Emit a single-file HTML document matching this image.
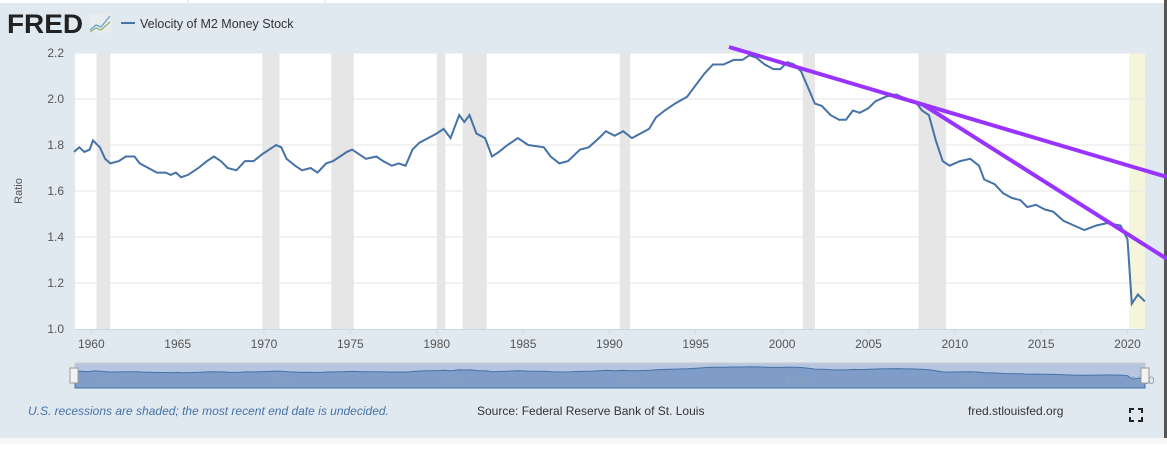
<!DOCTYPE html>
<html><head><meta charset="utf-8"><style>
body{margin:0;width:1167px;height:444px;overflow:hidden;background:#fff;font-family:"Liberation Sans",sans-serif}
</style></head><body>
<svg id="s" width="1167" height="444" xmlns="http://www.w3.org/2000/svg" font-family="Liberation Sans, sans-serif">
<rect x="0" y="0" width="1167" height="438" fill="#e1e9f0"/>
<rect x="0" y="0" width="1167" height="3" fill="#fff"/>
<line x1="188" y1="0" x2="188" y2="3" stroke="#ddd"/><line x1="325" y1="0" x2="325" y2="3" stroke="#ddd"/>
<rect x="1164" y="0" width="3" height="438" fill="#555"/>
<rect x="0" y="438" width="1167" height="6" fill="#f7f7f7"/>
<text x="7" y="33" font-size="27" font-weight="bold" fill="#222" textLength="76" lengthAdjust="spacingAndGlyphs">FRED</text>
<rect x="89" y="14" width="22" height="19" fill="#e8ecef"/>
<polyline points="90,30 96,25 101,27 110,16" fill="none" stroke="#6a9ed0" stroke-width="1.3"/>
<polyline points="90,32 96,28 101,30 110,22" fill="none" stroke="#8cb56a" stroke-width="1.3"/>
<line x1="121" y1="23" x2="135" y2="23" stroke="#4572a7" stroke-width="2"/>
<text x="140" y="28" font-size="12.5" fill="#333">Velocity of M2 Money Stock</text>
<rect x="75" y="53" width="1070" height="276" fill="#fff"/>
<g id="rec"></g>
<g id="grid" stroke="#e6e6e6" stroke-width="1"></g>
<line x1="75" y1="329.5" x2="1145" y2="329.5" stroke="#ccd6eb"/>
<g id="ylab" font-size="12" fill="#555" text-anchor="end"></g>
<g id="xlab" font-size="12" fill="#555" text-anchor="middle"></g>
<text x="22" y="191" font-size="11" fill="#555" text-anchor="middle" transform="rotate(-90 22 191)">Ratio</text>
<path id="line" fill="none" stroke="#4572a7" stroke-width="2"/>
<rect x="75" y="363" width="1070" height="25" fill="#b7c6e0" stroke="#ccc"/>
<path id="nav" fill="#7f9dc8" stroke="#4572a7" stroke-width="1"/>
<text x="96" y="384" font-size="11" fill="#8aa0c0">1960</text>
<text x="270" y="384" font-size="11" fill="#8aa0c0">1970</text>
<text x="440" y="384" font-size="11" fill="#8aa0c0">1980</text>
<text x="615" y="384" font-size="11" fill="#8aa0c0">1990</text>
<text x="785" y="384" font-size="11" fill="#8aa0c0">2000</text>
<text x="960" y="384" font-size="11" fill="#8aa0c0">2010</text>
<text x="1130" y="384" font-size="11" fill="#8aa0c0">2020</text>
<rect x="70" y="368" width="8" height="15" fill="#f2f2f2" stroke="#999"/>
<rect x="1141" y="368" width="8" height="15" fill="#f2f2f2" stroke="#999"/>
<text x="28" y="415" font-size="12" font-style="italic" fill="#4572a7">U.S. recessions are shaded; the most recent end date is undecided.</text>
<text x="477" y="415" font-size="12" fill="#333">Source: Federal Reserve Bank of St. Louis</text>
<text x="968" y="415" font-size="12" fill="#333">fred.stlouisfed.org</text>
<path d="M1130,413v-4h4M1138,409h4v4M1142,417v4h-4M1134,421h-4v-4" fill="none" stroke="#222" stroke-width="2"/>
<line x1="729" y1="47" x2="1167" y2="177" stroke="#9933ff" stroke-width="4"/>
<line x1="922" y1="104" x2="1167" y2="259" stroke="#9933ff" stroke-width="4"/>
</svg>
<script>
var X=function(t){return 91.3+(t-1960)*17.27},Y=function(v){return 329-(v-1)*230};
var ns="http://www.w3.org/2000/svg";
function el(p,n,a,t){var e=document.createElementNS(ns,n);for(var k in a)e.setAttribute(k,a[k]);if(t)e.textContent=t;document.getElementById(p).appendChild(e);}
[[1960.3,1961.1],[1969.9,1970.9],[1973.9,1975.2],[1980.0,1980.5],[1981.5,1982.9],[1990.6,1991.2],[2001.2,2001.9],[2007.9,2009.5]].forEach(function(r){el("rec","rect",{x:X(r[0]),y:53,width:X(r[1])-X(r[0]),height:276,fill:"#e6e6e6"});});
el("rec","rect",{x:X(2020.1),y:53,width:1145-X(2020.1),height:276,fill:"#f5f5dc"});
for(var v=1.2;v<2.25;v+=0.2)el("grid","line",{x1:75,x2:1145,y1:Y(v),y2:Y(v)});
for(var v=1.0;v<2.25;v+=0.2)el("ylab","text",{x:64,y:Y(v)+4},v.toFixed(1));
for(var y=1960;y<=2020;y+=5){el("xlab","text",{x:X(y),y:348},y);el("grid","line",{x1:X(y),x2:X(y),y1:329,y2:334,stroke:"#ccd6eb"});}
var d=[[1959,1.77],[1959.3,1.79],[1959.6,1.77],[1959.9,1.78],[1960.1,1.82],[1960.5,1.79],[1960.8,1.74],[1961.1,1.72],[1961.6,1.73],[1962,1.75],[1962.5,1.75],[1962.8,1.72],[1963.3,1.70],[1963.8,1.68],[1964.3,1.68],[1964.6,1.67],[1964.9,1.68],[1965.2,1.66],[1965.6,1.67],[1966.2,1.70],[1966.7,1.73],[1967.1,1.75],[1967.5,1.73],[1967.9,1.70],[1968.4,1.69],[1968.9,1.73],[1969.4,1.73],[1969.9,1.76],[1970.3,1.78],[1970.7,1.80],[1971,1.79],[1971.3,1.74],[1971.8,1.71],[1972.2,1.69],[1972.7,1.70],[1973.1,1.68],[1973.6,1.72],[1974,1.73],[1974.4,1.75],[1974.8,1.77],[1975.1,1.78],[1975.5,1.76],[1975.9,1.74],[1976.5,1.75],[1976.9,1.73],[1977.4,1.71],[1977.8,1.72],[1978.2,1.71],[1978.6,1.78],[1979,1.81],[1979.5,1.83],[1980,1.85],[1980.4,1.87],[1980.8,1.83],[1981.3,1.93],[1981.6,1.90],[1981.9,1.93],[1982.3,1.85],[1982.8,1.83],[1983.2,1.75],[1983.6,1.77],[1984.1,1.80],[1984.7,1.83],[1985.3,1.80],[1986.2,1.79],[1986.6,1.75],[1987.1,1.72],[1987.6,1.73],[1988.3,1.78],[1988.8,1.79],[1989.4,1.83],[1989.8,1.86],[1990.3,1.84],[1990.8,1.86],[1991.3,1.83],[1991.8,1.85],[1992.3,1.87],[1992.7,1.92],[1993.2,1.95],[1993.8,1.98],[1994.5,2.01],[1995,2.06],[1995.5,2.11],[1996,2.15],[1996.6,2.15],[1997.2,2.17],[1997.7,2.17],[1998.1,2.19],[1998.5,2.18],[1999,2.15],[1999.5,2.13],[1999.9,2.13],[2000.3,2.16],[2000.7,2.15],[2001.1,2.12],[2001.5,2.05],[2001.9,1.98],[2002.3,1.97],[2002.8,1.93],[2003.3,1.91],[2003.7,1.91],[2004.1,1.95],[2004.5,1.94],[2005,1.96],[2005.4,1.99],[2006,2.01],[2006.6,2.02],[2007.2,2.00],[2007.7,1.99],[2008.1,1.95],[2008.5,1.93],[2008.9,1.82],[2009.3,1.73],[2009.7,1.71],[2010.3,1.73],[2010.9,1.74],[2011.4,1.71],[2011.7,1.65],[2012.3,1.63],[2012.8,1.59],[2013.3,1.57],[2013.8,1.56],[2014.2,1.53],[2014.7,1.54],[2015.2,1.52],[2015.7,1.51],[2016.3,1.47],[2016.9,1.45],[2017.5,1.43],[2018.2,1.45],[2018.8,1.46],[2019.6,1.45],[2020.0,1.39],[2020.25,1.11],[2020.6,1.15],[2021.0,1.12]];
var p=d.map(function(q,i){return (i?"L":"M")+X(q[0]).toFixed(1)+","+Y(q[1]).toFixed(1)}).join("");
document.getElementById("line").setAttribute("d",p);
var n=d.map(function(q,i){var x=75+(q[0]-1959)/(2021-1959)*1070,y=388-(q[1]-0.3)/1.6*18;return (i?"L":"M")+x.toFixed(1)+","+y.toFixed(1)}).join("")+"L1145,388L75,388Z";
document.getElementById("nav").setAttribute("d",n);
</script>
</body></html>
